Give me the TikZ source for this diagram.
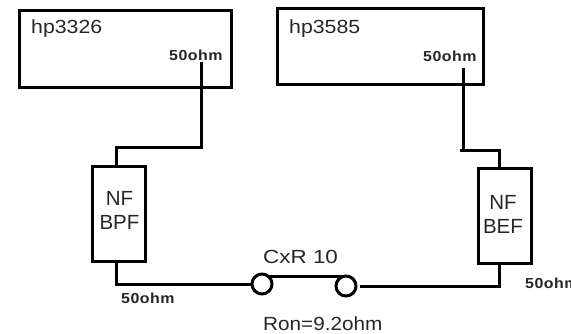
\documentclass[tikz,border=0pt]{standalone}
\usepackage{fontspec}
\setmainfont{Liberation Sans}
\newfontfamily\smallohm[LetterSpace=3]{Liberation Sans}
\tikzset{
  x=1pt,y=-1pt,
  device/.style={draw=black,line width=3pt,rectangle,inner sep=0pt},
  wire/.style={draw=black,line width=3pt,line join=miter},
  contact/.style={draw=black,line width=3pt,circle,inner sep=0pt,minimum size=20pt,fill=white},
  big/.style={inner sep=0pt,anchor=base west,xscale=1.12,font=\fontsize{19}{19}\selectfont,text=black!85},
  mid/.style={inner sep=0pt,anchor=base west,font=\fontsize{19}{19}\selectfont,text=black!85},
  tiny/.style={inner sep=0pt,anchor=base west,xscale=1.1,font=\smallohm\bfseries\fontsize{14.5}{14.5}\selectfont,text=black!85},
  filt/.style={inner sep=0pt,align=center,font=\fontsize{20.5}{24}\selectfont,text=black!85},
}
\begin{document}
\begin{tikzpicture}
\useasboundingbox (0,0) rectangle (571,333);
\clip (0,0) rectangle (571,333);
\fill[white] (0,0) rectangle (571,333);
% instruments
\node[device,minimum width=212pt,minimum height=77pt] (gen) at (125,48.5) {};
\node[device,minimum width=206pt,minimum height=76pt] (ana) at (380,46.5) {};
\node[big] (genl) at (31,33) {hp3326};
\node[big] (anal) at (289,33) {hp3585};
\node[tiny] (genp) at (169,60) {50ohm};
\node[tiny] (anap) at (423,61.5) {50ohm};
% filters
\node[device,minimum width=53pt,minimum height=95pt] (bpf) at (118.5,213.5) {};
\node[device,minimum width=53pt,minimum height=95pt] (bef) at (504.5,215.5) {};
\node[filt] (bpfl) at (119.5,210) {NF\\BPF};
\node[filt] (befl) at (503,214) {NF\\BEF};
% switch
\node[contact] (c1) at (262,284) {};
\node[contact] (c2) at (346,286) {};
\node[mid,xscale=1.18] (cxr) at (263,263) {CxR 10};
\node[mid,xscale=1.09] (ron) at (263,330) {Ron=9.2ohm};
\node[tiny] (bpfp) at (121,303) {50ohm};
\node[tiny] (befp) at (525,288) {50ohm};
% connection points
\coordinate (g0) at (201,62);
\coordinate (a0) at (463,68);
\coordinate (bt) at (116,166);
\coordinate (bb) at (116,262);
\coordinate (et) at (499,168);
\coordinate (eb) at (499,263);
% connectors
\draw[wire] (g0) -- (201,147) -- (116,147) -- (bt);
\draw[wire] (a0) -- (463,150) -- (499,150) -- (et);
\draw[wire] (460,150) -- (463,150);
\draw[wire] (bb) -- (116,284) -- (c1.west);
\draw[wire] (268,276) -- (345,276);
\draw[wire] (eb) -- (499,286) -- (359.5,286);
\end{tikzpicture}
\end{document}
